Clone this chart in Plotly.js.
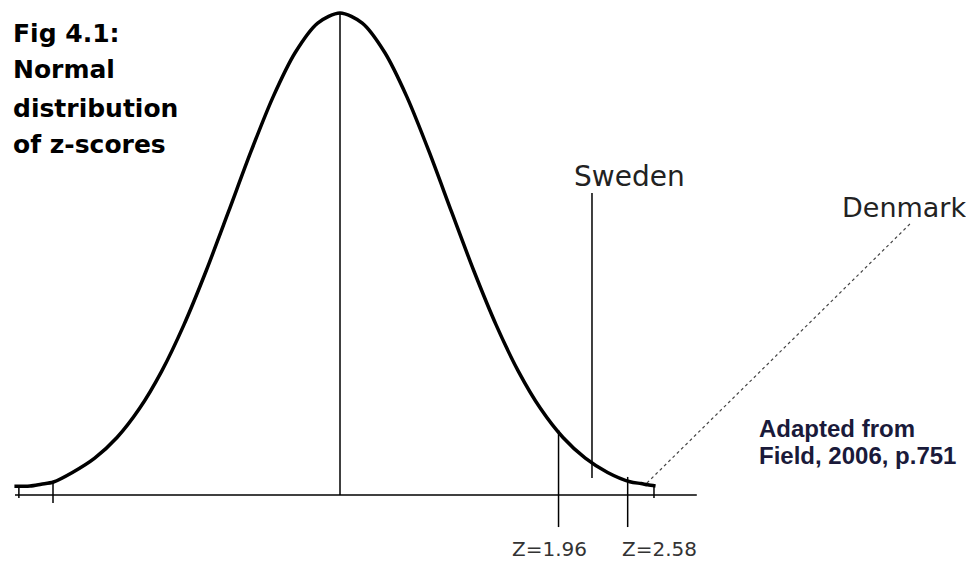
<!DOCTYPE html>
<html>
<head>
<meta charset="utf-8">
<script src="https://cdn.plot.ly/plotly-3.0.1.min.js"></script>
<style>html,body{margin:0;padding:0;background:#fff;}#chart{width:966px;height:561px;}</style>
</head>
<body>
<div id="chart"></div>
<script>
// ---- data (z-score units, density units) ----
const curveZ = [-2.92, -2.78, -2.68, -2.57, -2.4, -2.2, -2.0, -1.8, -1.6, -1.4, -1.2, -1.0, -0.8, -0.6, -0.4, -0.2, 0,
                0.2, 0.4, 0.6, 0.8, 1.0, 1.2, 1.4, 1.6, 1.8, 2.0, 2.2, 2.4, 2.6, 2.7, 2.76, 2.83];
const curveDensity = [0.0072, 0.0075, 0.0090, 0.0108, 0.0187, 0.0306, 0.0477, 0.0715, 0.1026, 0.1412, 0.1861, 0.2351, 0.2847, 0.3304, 0.3674, 0.3916, 0.4000,
                      0.3916, 0.3674, 0.3304, 0.2847, 0.2351, 0.1861, 0.1412, 0.1026, 0.0715, 0.0477, 0.0306, 0.0187, 0.0110, 0.0095, 0.0085, 0.0075];
const meanZ = 0, peakDensity = 0.4;
const criticalZ = [1.96, 2.58];
const criticalLabels = ['Z=1.96', 'Z=2.58'];
const criticalTop = [0.054, 0.015];
const criticalBottom = -0.0266;
const countries = ['Sweden', 'Denmark'];
const countryZ = [2.26, 2.75];
const swedenTop = 0.2506, swedenBottom = 0.0141;
const denmarkPointerZ = [2.753, 5.13];
const denmarkPointerY = [0.0100, 0.2266];
const axisZ = [-2.915, 3.20];
const tickZ = [-2.88, -2.574, 2.816];
const tickTop = [0.0066, 0.0108, 0.0075];
const tickBottom = [-0.0025, -0.0066, -0.0025];
const titleLines = ['Fig 4.1:', 'Normal', 'distribution', 'of z-scores'];
const sourceLines = ['Adapted from', 'Field, 2006, p.751'];

// ---- build traces ----
const W = 966, H = 561;
const px = x => x / W;
const py = y => 1 - y / H;

const curve = {x: curveZ, y: curveDensity, mode: 'lines', line: {color: '#000', width: 3.5, shape: 'spline', smoothing: 0.8}, hoverinfo: 'skip'};
const axisLine = {x: axisZ, y: [0, 0], mode: 'lines', line: {color: '#000', width: 1.6}, hoverinfo: 'skip'};

const vx = [meanZ, meanZ, null], vy = [0, peakDensity, null];
criticalZ.forEach((z, i) => { vx.push(z, z, null); vy.push(criticalTop[i], criticalBottom, null); });
vx.push(countryZ[0], countryZ[0], null); vy.push(swedenTop, swedenBottom, null);
tickZ.forEach((z, i) => { vx.push(z, z, null); vy.push(tickTop[i], tickBottom[i], null); });
const verticals = {x: vx, y: vy, mode: 'lines', line: {color: '#000', width: 1.5}, hoverinfo: 'skip'};

const pointer = {x: denmarkPointerZ, y: denmarkPointerY, mode: 'lines', line: {color: '#444', width: 1.2, dash: 'dot'}, hoverinfo: 'skip'};

const annotations = [];
const titleY = [34, 69, 108, 144.5];
titleLines.forEach((t, i) => annotations.push({
  text: t, xref: 'paper', yref: 'paper', x: px(11), y: py(titleY[i]), xanchor: 'left', yanchor: 'middle',
  showarrow: false, font: {family: 'DejaVu Sans', size: 25, weight: 'bold', color: '#000'}
}));
const srcY = [428, 455];
sourceLines.forEach((t, i) => annotations.push({
  text: t, xref: 'paper', yref: 'paper', x: px(757), y: py(srcY[i]), xanchor: 'left', yanchor: 'middle',
  showarrow: false, font: {family: 'Liberation Sans', size: 24, weight: 'bold', color: '#1a1a3a'}
}));
const countryPos = [[572, 177, 28], [840, 207.5, 27]];
countries.forEach((c, i) => annotations.push({
  text: c, xref: 'paper', yref: 'paper', x: px(countryPos[i][0]), y: py(countryPos[i][1]), xanchor: 'left', yanchor: 'middle',
  showarrow: false, font: {family: 'DejaVu Sans', size: countryPos[i][2], color: '#222'}
}));
const critLabelX = [510, 620];
criticalLabels.forEach((t, i) => annotations.push({
  text: t, xref: 'paper', yref: 'paper', x: px(critLabelX[i]), y: py(548.5), xanchor: 'left', yanchor: 'middle',
  showarrow: false, font: {family: 'DejaVu Sans', size: 20, color: '#333'}
}));

const layout = {
  width: W, height: H,
  margin: {l: 0, r: 0, t: 0, b: 0},
  paper_bgcolor: '#fff', plot_bgcolor: '#fff',
  showlegend: false,
  xaxis: {range: [-340 / 111.5, (966 - 340) / 111.5], visible: false, fixedrange: true},
  yaxis: {range: [(495 - 561) / 1205, 495 / 1205], visible: false, fixedrange: true},
  annotations: annotations
};

Plotly.newPlot('chart', [curve, axisLine, verticals, pointer], layout, {displayModeBar: false, staticPlot: true});
</script>
</body>
</html>
